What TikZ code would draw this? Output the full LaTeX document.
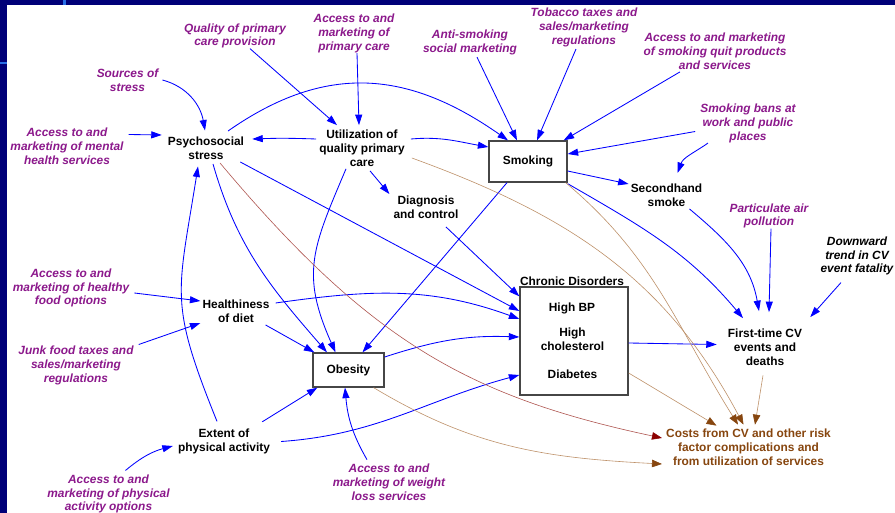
\documentclass[tikz,border=0pt]{standalone}
\usepackage{fontspec}
\setmainfont{Liberation Sans}
\usetikzlibrary{arrows.meta}
\definecolor{purp}{RGB}{140,25,140}
\definecolor{brn}{RGB}{135,70,15}
\definecolor{brnline}{RGB}{190,145,105}
\definecolor{redline}{RGB}{175,85,80}
\definecolor{darkred}{RGB}{140,0,0}
\definecolor{framenavy}{RGB}{0,0,120}
\definecolor{lblue}{RGB}{40,110,230}
\definecolor{boxgray}{RGB}{70,70,70}
\newcommand\myfs{\fontsize{11.9}{13.8}\selectfont}
\tikzset{
  var/.style={font=\myfs\bfseries, align=center, inner sep=2pt},
  lbl/.style={font=\myfs\bfseries\itshape, text=purp, align=center, inner sep=2pt},
  box/.style={draw=boxgray, line width=1.3pt, fill=white, font=\myfs\bfseries, inner sep=0pt},
  ar/.style={draw=blue, line width=0.85pt, -{Triangle[length=10.5pt,width=7pt]}},
  brarr/.style={draw=brnline, line width=0.6pt, -{Triangle[length=10pt,width=7.5pt,color=brn]}},
  redarr/.style={draw=redline, line width=0.6pt, -{Triangle[length=10pt,width=7.5pt,color=darkred]}}
}
\begin{document}
\begin{tikzpicture}[x=1pt,y=1pt]
\useasboundingbox (0,0) rectangle (895,-513);
\fill[white] (0,0) rectangle (895,-513);
\fill[framenavy] (0,0) rectangle (7,-513);
\fill[framenavy] (0,0) rectangle (895,-5.5);
\fill[lblue] (63,0) rectangle (66,-5.5);
\fill[lblue] (0,-62) rectangle (7,-64.5);

% external factors
\node[lbl] (srcs) at (127.5,-80) {Sources of\\stress};
\node[lbl] (qual) at (235,-36) {Quality of primary\\care provision};
\node[lbl] (accpc) at (354,-33.5) {Access to and\\marketing of\\primary care};
\node[lbl] (anti) at (470,-42.5) {Anti-smoking\\social marketing};
\node[lbl] (tax) at (584,-27.5) {Tobacco taxes and\\sales/marketing\\regulations};
\node[lbl] (quit) at (715,-51.5) {Access to and marketing\\of smoking quit products\\and services};
\node[lbl] (mental) at (67,-146.5) {Access to and\\marketing of mental\\health services};
\node[lbl] (bans) at (748,-123.5) {Smoking bans at\\work and public\\places};
\node[lbl] (part) at (769,-216) {Particulate air\\pollution};
\node[lbl, text=black] (down) at (857,-256) {Downward\\trend in CV\\event fatality};
\node[lbl] (food) at (71,-288) {Access to and\\marketing of healthy\\food options};
\node[lbl] (junk) at (76,-365.5) {Junk food taxes and\\sales/marketing\\regulations};
\node[lbl] (phys) at (108.5,-494) {Access to and\\marketing of physical\\activity options};
\node[lbl] (wl) at (389,-482) {Access to and\\marketing of weight\\loss services};

% variables
\node[var] (psy) at (206,-148.5) {Psychosocial\\stress};
\node[var] (util) at (362,-148.5) {Utilization of\\quality primary\\care};
\node[box, minimum width=78pt, minimum height=41pt] (smoke) at (528,-161.5) {Smoking};
\node[var] (sh) at (666.5,-195.5) {Secondhand\\smoke};
\node[var] (diag) at (426,-207.5) {Diagnosis\\and control};
\node[box, minimum width=108pt, minimum height=108pt] (chr) at (574,-341) {};
\node[var] (chrt) at (572,-281) {Chronic Disorders};
\node[var] (hbp) at (572,-308.5) {High BP};
\node[var] (hchol) at (572.5,-339) {High\\cholesterol};
\node[var] (diab) at (572.5,-374.5) {Diabetes};
\node[box, minimum width=71pt, minimum height=34pt] (obes) at (348.5,-370) {Obesity};
\node[var] (health) at (236,-311.5) {Healthiness\\of diet};
\node[var] (ext) at (224,-441.5) {Extent of\\physical activity};
\node[var] (fcv) at (765,-347.5) {First-time CV\\events and\\deaths};
\node[var, text=brn] (costs) at (748.5,-447) {Costs from CV and other risk\\factor complications and\\from utilization of services};

% blue causal links
\draw[ar] ([xshift=2pt]srcs.east) to[out=-15,in=100] ([xshift=-1pt,yshift=4.5pt]psy.north);
\draw[ar] ([xshift=3pt,yshift=12pt]mental.east) -- ([xshift=-4pt,yshift=13.5pt]psy.west);
\draw[ar] ([xshift=-1pt,yshift=9.5pt]util.west) to[out=178,in=2] ([xshift=6pt,yshift=9.5pt]psy.east);
\draw[ar] ([xshift=22pt,yshift=4pt]psy.north) to[out=35,in=145,looseness=1.1] ([xshift=-20pt]smoke.north);
\draw[ar] ([xshift=15pt,yshift=2pt]qual.south) -- ([xshift=-25pt,yshift=3pt]util.north);
\draw[ar] ([xshift=3pt,yshift=2pt]accpc.south) -- ([xshift=-3pt,yshift=3pt]util.north);
\draw[ar] ([xshift=4pt,yshift=9.5pt]util.east) to[out=5,in=170] ([yshift=14.5pt]smoke.west);
\draw[ar] ([xshift=7pt]anti.south) -- ([xshift=-11pt]smoke.north);
\draw[ar] ([xshift=-8pt]tax.south) -- ([xshift=9pt]smoke.north);
\draw[ar] ([xshift=-35pt]quit.south) -- ([xshift=-4pt]smoke.north east);
\draw[ar] ([xshift=-3pt,yshift=-8pt]bans.west) -- ([yshift=7.5pt]smoke.east);
\draw[ar] ([xshift=-40pt,yshift=2pt]bans.south) to[out=-145,in=70] ([xshift=11pt,yshift=9pt]sh.north);
\draw[ar] ([yshift=-9.5pt]smoke.east) -- ([yshift=11.5pt]sh.west);
\draw[ar] ([yshift=-1pt]smoke.south east) to[out=-30,in=130] ([xshift=-22pt,yshift=9pt]fcv.north);
\draw[ar] ([xshift=23pt]sh.south) to[out=-40,in=100] ([xshift=-6pt,yshift=16pt]fcv.north);
\draw[ar] ([xshift=2pt,yshift=2pt]part.south) -- ([xshift=4pt,yshift=15pt]fcv.north);
\draw[ar] ([xshift=-16pt,yshift=-5pt]down.south) -- ([xshift=6pt,yshift=10pt]fcv.north east);
\draw[ar] ([yshift=-2pt]chr.east) -- ([xshift=-9pt,yshift=3pt]fcv.west);
\draw[ar] ([xshift=8pt,yshift=-2pt]util.south) -- ([xshift=-2pt]diag.north west);
\draw[ar] ([xshift=20pt,yshift=-6pt]diag.south) -- ([yshift=-10pt]chr.north west);
\draw[ar] ([xshift=-16pt]util.south) to[out=-113,in=114,looseness=1.2] ([xshift=-13pt]obes.north);
\draw[ar] ([xshift=7pt,yshift=-2pt]psy.south) to[out=-74,in=131] ([xshift=-21.5pt]obes.north);
\draw[ar] ([xshift=-6pt]psy.south east) -- ([yshift=30pt]chr.west);
\draw[ar] ([xshift=-21pt]smoke.south) -- ([xshift=14pt]obes.north);
\draw[ar] ([xshift=-6pt]health.south east) -- ([xshift=2pt]obes.north west);
\draw[ar] ([xshift=4pt,yshift=8.5pt]health.east) to[out=8,in=160] ([yshift=22pt]chr.west);
\draw[ar] ([yshift=13pt]obes.east) to[out=18,in=178] ([yshift=4pt]chr.west);
\draw[ar] ([xshift=-10pt,yshift=5pt]ext.north east) -- ([xshift=5pt]obes.south west);
\draw[ar] ([xshift=9pt]ext.east) to[out=4,in=-165] ([yshift=-34pt]chr.west);
\draw[ar] ([xshift=-7pt,yshift=5.5pt]ext.north) to[out=112,in=-99,looseness=1.3] ([xshift=-8pt,yshift=-4.5pt]psy.south);
\draw[ar] ([xshift=-22pt,yshift=2pt]wl.north) to[out=120,in=-85] ([xshift=-3.5pt]obes.south);
\draw[ar] ([xshift=17pt,yshift=2pt]phys.north) to[out=40,in=195] ([xshift=-3pt,yshift=-4.5pt]ext.west);
\draw[ar] ([xshift=3pt,yshift=-5pt]food.east) -- ([yshift=10.5pt]health.west);
\draw[ar] ([xshift=3pt,yshift=21pt]junk.east) -- ([yshift=-11.5pt]health.west);

% cost links
\draw[redarr] ([xshift=14pt,yshift=-1pt]psy.south) .. controls +(-50:230) and +(168:200) .. ([xshift=-2pt,yshift=9pt]costs.west);
\draw[brarr] ([xshift=-11pt]obes.south east) to[out=-31,in=177] ([xshift=-2pt,yshift=-17pt]costs.west);
\draw[brarr] ([yshift=-32pt]chr.east) -- ([xshift=-32pt,yshift=1pt]costs.north);
\draw[brarr] ([xshift=5pt,yshift=-9.5pt]util.east) to[out=-20,in=118] ([xshift=-5pt,yshift=2pt]costs.north);
\draw[brarr] ([xshift=-2pt]smoke.south east) to[out=-40,in=122] ([xshift=-10.5pt,yshift=2pt]costs.north);
\draw[brarr] ([xshift=-2pt,yshift=-7.5pt]fcv.south) -- ([xshift=6.5pt,yshift=2pt]costs.north);
\end{tikzpicture}
\end{document}
